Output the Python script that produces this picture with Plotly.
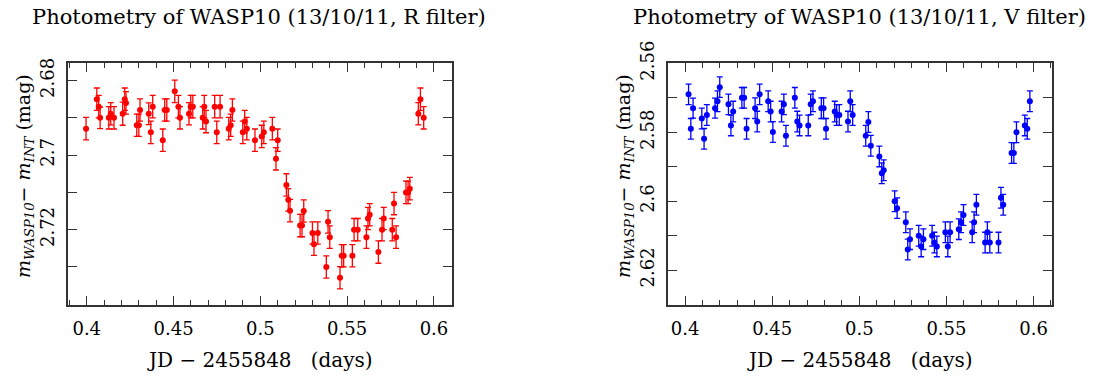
import plotly.graph_objects as go

# ---------------- data ----------------
jd_R = [0.3996, 0.4058, 0.4069, 0.4077, 0.4127, 0.4138, 0.4157, 0.4207, 0.4219, 0.4226,
        0.4288, 0.4300, 0.4307, 0.4357, 0.4369, 0.4380, 0.4438, 0.4449, 0.4461, 0.4507,
        0.4528, 0.4537, 0.4589, 0.4599, 0.4611, 0.4668, 0.4677, 0.4687, 0.4737, 0.4749,
        0.4768, 0.4818, 0.4829, 0.4839, 0.4899, 0.4910, 0.4922, 0.4969, 0.5008, 0.5020,
        0.5069, 0.5090, 0.5100, 0.5150, 0.5161, 0.5171, 0.5229, 0.5240, 0.5250, 0.5300,
        0.5309, 0.5331, 0.5380, 0.5390, 0.5400, 0.5459, 0.5469, 0.5480, 0.5530, 0.5540,
        0.5561, 0.5611, 0.5620, 0.5630, 0.5680, 0.5701, 0.5711, 0.5760, 0.5770, 0.5782,
        0.5839, 0.5851, 0.5861, 0.5910, 0.5922, 0.5941]
mag_R = [2.6929, 2.6850, 2.6870, 2.6900, 2.6900, 2.6889, 2.6900, 2.6889, 2.6850, 2.6860,
         2.6920, 2.6920, 2.6879, 2.6889, 2.6939, 2.6870, 2.6960, 2.6879, 2.6879, 2.6829,
         2.6870, 2.6900, 2.6889, 2.6870, 2.6870, 2.6900, 2.6870, 2.6910, 2.6870, 2.6939,
         2.6870, 2.6929, 2.6920, 2.6879, 2.6939, 2.6910, 2.6929, 2.6960, 2.6950, 2.6939,
         2.6929, 2.7010, 2.6960, 2.7080, 2.7120, 2.7149, 2.7189, 2.7189, 2.7150, 2.7209,
         2.7239, 2.7209, 2.7300, 2.7179, 2.7220, 2.7329, 2.7270, 2.7270, 2.7270, 2.7200,
         2.7200, 2.7220, 2.7170, 2.7160, 2.7260, 2.7200, 2.7170, 2.7200, 2.7130, 2.7220,
         2.7100, 2.7100, 2.7090, 2.6889, 2.6850, 2.6900]
err_R = [0.0030, 0.0030, 0.0030, 0.0029, 0.0030, 0.0030, 0.0030, 0.0031, 0.0030, 0.0030,
         0.0030, 0.0030, 0.0030, 0.0029, 0.0030, 0.0030, 0.0030, 0.0030, 0.0030, 0.0030,
         0.0030, 0.0030, 0.0030, 0.0030, 0.0030, 0.0030, 0.0030, 0.0030, 0.0030, 0.0030,
         0.0030, 0.0030, 0.0030, 0.0030, 0.0030, 0.0030, 0.0030, 0.0030, 0.0030, 0.0030,
         0.0030, 0.0030, 0.0030, 0.0030, 0.0030, 0.0030, 0.0030, 0.0030, 0.0030, 0.0030,
         0.0030, 0.0030, 0.0030, 0.0030, 0.0030, 0.0030, 0.0030, 0.0030, 0.0030, 0.0030,
         0.0030, 0.0030, 0.0030, 0.0030, 0.0030, 0.0030, 0.0030, 0.0030, 0.0030, 0.0030,
         0.0030, 0.0030, 0.0030, 0.0030, 0.0030, 0.0030]

jd_V = [0.4020, 0.4033, 0.4046, 0.4096, 0.4109, 0.4125, 0.4172, 0.4186, 0.4199, 0.4249,
        0.4263, 0.4276, 0.4326, 0.4339, 0.4353, 0.4402, 0.4414, 0.4428, 0.4477, 0.4491,
        0.4504, 0.4554, 0.4567, 0.4579, 0.4630, 0.4644, 0.4657, 0.4707, 0.4721, 0.4734,
        0.4782, 0.4795, 0.4809, 0.4859, 0.4870, 0.4885, 0.4935, 0.4948, 0.4962, 0.5037,
        0.5052, 0.5066, 0.5115, 0.5129, 0.5140, 0.5203, 0.5217, 0.5267, 0.5278, 0.5291,
        0.5341, 0.5355, 0.5368, 0.5418, 0.5431, 0.5445, 0.5494, 0.5508, 0.5521, 0.5571,
        0.5584, 0.5598, 0.5648, 0.5659, 0.5672, 0.5722, 0.5735, 0.5749, 0.5799, 0.5813,
        0.5826, 0.5874, 0.5887, 0.5902, 0.5950, 0.5964, 0.5979]
mag_V = [2.5690, 2.5790, 2.5730, 2.5760, 2.5819, 2.5750, 2.5730, 2.5710, 2.5669, 2.5719,
         2.5780, 2.5740, 2.5700, 2.5700, 2.5790, 2.5730, 2.5769, 2.5690, 2.5710, 2.5740,
         2.5799, 2.5740, 2.5719, 2.5810, 2.5700, 2.5769, 2.5780, 2.5780, 2.5719, 2.5710,
         2.5730, 2.5730, 2.5790, 2.5740, 2.5750, 2.5750, 2.5769, 2.5710, 2.5750, 2.5810,
         2.5770, 2.5839, 2.5870, 2.5919, 2.5910, 2.6000, 2.6020, 2.6061, 2.6140, 2.6110,
         2.6100, 2.6131, 2.6110, 2.6100, 2.6120, 2.6131, 2.6090, 2.6131, 2.6090, 2.6081,
         2.6061, 2.6040, 2.6090, 2.6061, 2.6010, 2.6120, 2.6090, 2.6120, 2.6120, 2.5990,
         2.6010, 2.5860, 2.5860, 2.5800, 2.5780, 2.5790, 2.5710]
err_V = [0.0030, 0.0030, 0.0029, 0.0030, 0.0030, 0.0030, 0.0029, 0.0030, 0.0030, 0.0030,
         0.0030, 0.0030, 0.0030, 0.0030, 0.0030, 0.0030, 0.0030, 0.0030, 0.0030, 0.0030,
         0.0030, 0.0030, 0.0030, 0.0030, 0.0030, 0.0030, 0.0030, 0.0030, 0.0030, 0.0030,
         0.0030, 0.0030, 0.0030, 0.0030, 0.0030, 0.0030, 0.0030, 0.0030, 0.0030, 0.0030,
         0.0030, 0.0030, 0.0030, 0.0030, 0.0030, 0.0030, 0.0030, 0.0030, 0.0030, 0.0030,
         0.0030, 0.0030, 0.0030, 0.0030, 0.0030, 0.0030, 0.0030, 0.0030, 0.0030, 0.0030,
         0.0030, 0.0030, 0.0030, 0.0030, 0.0030, 0.0030, 0.0030, 0.0030, 0.0030, 0.0030,
         0.0030, 0.0030, 0.0030, 0.0030, 0.0030, 0.0030, 0.0030]

x_ticks = [0.4, 0.45, 0.5, 0.55, 0.6]
x_ticktext = ["0.4", "0.45", "0.5", "0.55", "0.6"]
yR_ticks = [2.68, 2.70, 2.72]
yR_ticktext = ["2.68", "2.7", "2.72"]
yV_ticks = [2.56, 2.58, 2.60, 2.62]
yV_ticktext = ["2.56", "2.58", "2.6", "2.62"]

titles = ["Photometry of WASP10 (13/10/11, R filter)",
          "Photometry of WASP10 (13/10/11, V filter)"]
x_label = "JD\u00a0\u2212\u00a02455848\u00a0\u00a0\u00a0(days)"
y_label = "<i>m</i><sub><i>WASP10</i></sub>\u2212\u00a0<i>m</i><sub><i>INT</i></sub>\u00a0(mag)"

# ---------------- figure ----------------
W, H = 1095, 376
FONT = "DejaVu Serif"
AX = "#333333"

fig = go.Figure()

fig.add_trace(go.Scatter(
    x=jd_R, y=mag_R, mode="markers", xaxis="x", yaxis="y",
    marker=dict(color="#ff0000", size=6),
    error_y=dict(type="data", array=err_R, color="#ff0000", thickness=1.3, width=3),
    showlegend=False))
fig.add_trace(go.Scatter(
    x=jd_V, y=mag_V, mode="markers", xaxis="x2", yaxis="y2",
    marker=dict(color="#0000ff", size=6),
    error_y=dict(type="data", array=err_V, color="#0000ff", thickness=1.3, width=3),
    showlegend=False))

ydom = [1 - 305 / H, 1 - 63 / H]
xcommon = dict(showline=True, linecolor=AX, linewidth=1.5, mirror="ticks",
               ticks="inside", ticklen=9, tickwidth=1.2, tickcolor=AX,
               tickvals=x_ticks, ticktext=x_ticktext, showgrid=False, zeroline=False,
               automargin=False, ticklabelstandoff=7,
               tickfont=dict(family=FONT, size=18, color="black"),
               minor=dict(dtick=0.01, ticks="inside", ticklen=5, tickwidth=1.2,
                          tickcolor=AX, showgrid=False))
ycommon = dict(showline=True, linecolor=AX, linewidth=1.5, mirror="ticks",
               ticks="inside", ticklen=9, tickwidth=1.2, tickcolor=AX,
               showgrid=False, zeroline=False, tickangle=-90, automargin=False,
               ticklabelstandoff=5, tickmode="array",
               tickfont=dict(family=FONT, size=18, color="black"))

fig.update_layout(
    width=W, height=H,
    margin=dict(l=0, r=0, t=0, b=0),
    paper_bgcolor="white", plot_bgcolor="white",
    xaxis=dict(domain=[68 / W, 452 / W], range=[0.3892, 0.6104], anchor="y", **xcommon),
    yaxis=dict(domain=ydom, range=[2.7402, 2.6753], anchor="x",
               tickvals=yR_ticks, ticktext=yR_ticktext,
               minor=dict(tick0=2.68, dtick=0.01, ticks="inside", ticklen=9, tickwidth=1.2,
                          tickcolor=AX, showgrid=False),
               **ycommon),
    xaxis2=dict(domain=[668 / W, 1052 / W], range=[0.3902, 0.6106], anchor="y2", **xcommon),
    yaxis2=dict(domain=ydom, range=[2.6301, 2.5599], anchor="x2",
                tickvals=yV_ticks, ticktext=yV_ticktext,
                minor=dict(tick0=2.56, dtick=0.01, ticks="inside", ticklen=9, tickwidth=1.2,
                           tickcolor=AX, showgrid=False),
                **ycommon),
)

for cx, t in [(259, titles[0]), (859, titles[1])]:
    fig.add_annotation(text=t, x=cx / W, y=1 - 17 / H, xref="paper", yref="paper",
                       showarrow=False, xanchor="center", yanchor="middle",
                       font=dict(family=FONT, size=21, color="black"))

for cx in (260, 860):
    fig.add_annotation(text=x_label, x=cx / W, y=1 - 360 / H, xref="paper", yref="paper",
                       showarrow=False, xanchor="center", yanchor="middle",
                       font=dict(family=FONT, size=20, color="black"))

for lx in (24, 624):
    fig.add_annotation(text=y_label, x=lx / W, y=1 - 176 / H, xref="paper", yref="paper",
                       showarrow=False, textangle=-90, xanchor="center", yanchor="middle",
                       font=dict(family=FONT, size=19, color="black"))

fig.write_html("out.html",
               config={"displayModeBar": False},
               post_script="document.body.style.margin='0';document.body.style.padding='0';")
